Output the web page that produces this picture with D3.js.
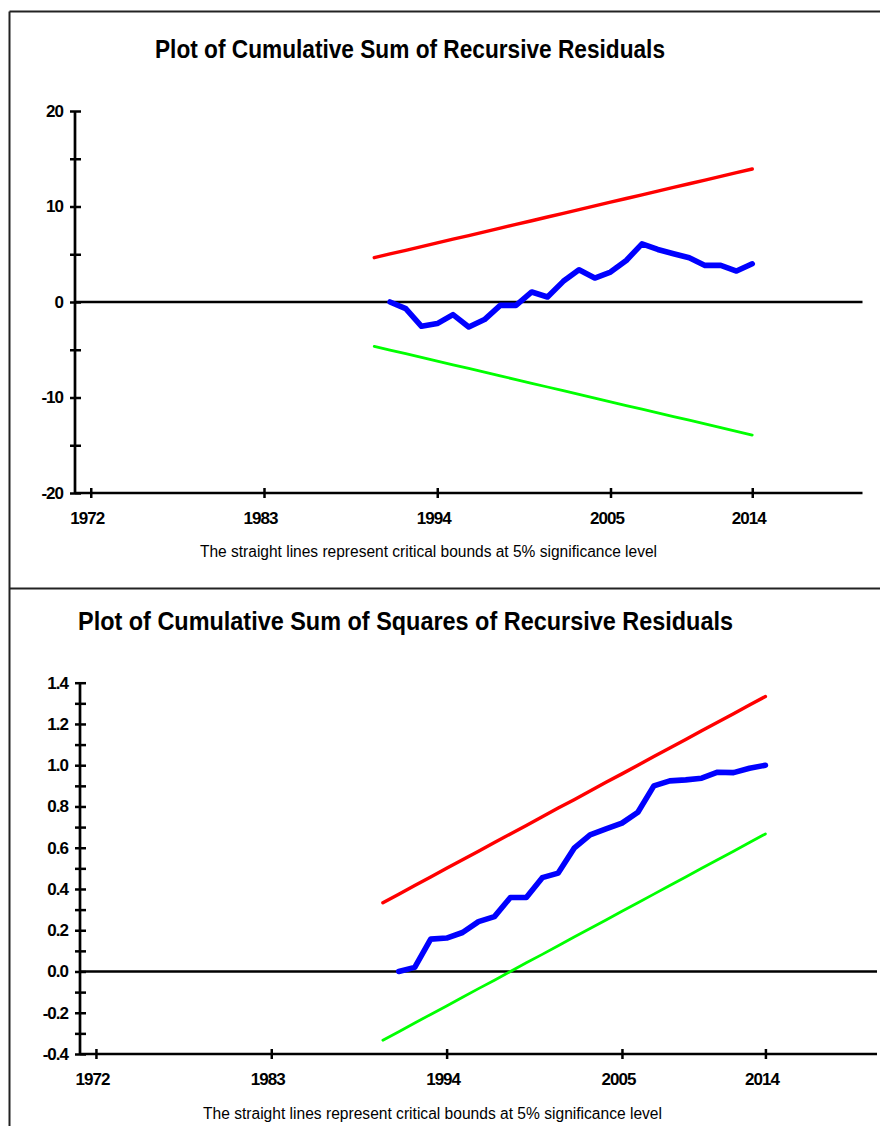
<!DOCTYPE html>
<html>
<head>
<meta charset="utf-8">
<script src="https://cdn.jsdelivr.net/npm/d3@7/dist/d3.min.js"></script>
<style>
  html, body { margin: 0; padding: 0; background: #fff; }
  svg { display: block; }
  text { font-family: "Liberation Sans", Arial, sans-serif; fill: #000; }
</style>
</head>
<body>
<svg id="chart" width="880" height="1126"></svg>
<script>
// ---- data ----
const boundYears = [1990,1991,1992,1993,1994,1995,1996,1997,1998,1999,2000,2001,2002,
                    2003,2004,2005,2006,2007,2008,2009,2010,2011,2012,2013,2014];
const residYears = [1991,1992,1993,1994,1995,1996,1997,1998,1999,2000,2001,2002,
                    2003,2004,2005,2006,2007,2008,2009,2010,2011,2012,2013,2014];

const xTickYears = [1972, 1983, 1994, 2005, 2014];

// CUSUM panel
const cusum = [0.00,-0.70,-2.54,-2.26,-1.32,-2.61,-1.84,-0.35,-0.35,1.05,0.52,2.16,
               3.38,2.51,3.13,4.35,6.09,5.50,5.05,4.63,3.83,3.83,3.24,4.00];
const cusumUpper = [4.64,5.03,5.41,5.80,6.19,6.58,6.96,7.35,7.74,8.12,8.51,8.90,9.29,
                    9.67,10.06,10.45,10.84,11.22,11.61,12.00,12.38,12.77,13.16,13.55,13.93];
const cusumLower = [-4.64,-5.03,-5.41,-5.80,-6.19,-6.58,-6.96,-7.35,-7.74,-8.12,-8.51,-8.90,-9.29,
                    -9.67,-10.06,-10.45,-10.84,-11.22,-11.61,-12.00,-12.38,-12.77,-13.16,-13.55,-13.93];
const cusumTicks = [20, 15, 10, 5, 0, -5, -10, -15, -20];
const cusumTickLabels = ["20", "", "10", "", "0", "", "-10", "", "-20"];

// CUSUM of squares panel
const cusumsq = [0.000,0.020,0.157,0.162,0.189,0.242,0.266,0.359,0.359,0.455,0.477,0.598,
                 0.662,0.691,0.719,0.772,0.900,0.924,0.929,0.937,0.966,0.964,0.985,1.000];
const sqUpper = [0.333,0.375,0.417,0.458,0.500,0.542,0.583,0.625,0.667,0.708,0.750,0.792,0.833,
                 0.875,0.917,0.958,1.000,1.042,1.083,1.125,1.167,1.208,1.250,1.292,1.333];
const sqLower = [-0.333,-0.292,-0.250,-0.208,-0.167,-0.125,-0.083,-0.042,0.000,0.042,0.083,0.125,0.167,
                 0.208,0.250,0.292,0.333,0.375,0.417,0.458,0.500,0.542,0.583,0.625,0.667];
const sqTicks = [1.4,1.3,1.2,1.1,1.0,0.9,0.8,0.7,0.6,0.5,0.4,0.3,0.2,0.1,0.0,-0.1,-0.2,-0.3,-0.4];
const sqTickLabels = ["1.4","","1.2","","1.0","","0.8","","0.6","","0.4","","0.2","","0.0","","-0.2","","-0.4"];

const titles = ["Plot of Cumulative Sum of Recursive Residuals",
                "Plot of Cumulative Sum of Squares of Recursive Residuals"];
const note = "The straight lines represent critical bounds at 5% significance level";

// ---- drawing ----
const svg = d3.select("#chart");
svg.append("rect").attr("width", 880).attr("height", 1126).attr("fill", "#fff");

// panel frame
const frame = svg.append("g").attr("stroke", "#222").attr("stroke-width", 2).attr("fill", "none");
frame.append("line").attr("x1", 9.5).attr("x2", 880).attr("y1", 11.5).attr("y2", 11.5);
frame.append("line").attr("x1", 9.5).attr("x2", 9.5).attr("y1", 11.5).attr("y2", 1126);
frame.append("line").attr("x1", 9.5).attr("x2", 880).attr("y1", 588.5).attr("y2", 588.5);

function panel(cfg) {
  const g = svg.append("g");
  const x = d3.scaleLinear().domain([1971, 2021]).range([cfg.left, cfg.right]);
  const y = d3.scaleLinear().domain(cfg.yDomain).range([cfg.bottom, cfg.top]);

  // title
  g.append("text")
    .attr("x", cfg.titleX).attr("y", cfg.titleY)
    .attr("font-size", 26).attr("font-weight", "bold")
    .attr("textLength", cfg.titleW).attr("lengthAdjust", "spacingAndGlyphs")
    .text(cfg.title);

  // zero reference line
  g.append("line")
    .attr("x1", x(1971)).attr("x2", x(2021))
    .attr("y1", y(0)).attr("y2", y(0))
    .attr("stroke", "#000").attr("stroke-width", 2.5);

  // y axis
  const yAxis = d3.axisLeft(y)
    .tickValues(cfg.yTicks)
    .tickSize(5)
    .tickPadding(8)
    .tickFormat((d, i) => cfg.yLabels[i]);
  const ya = g.append("g").attr("transform", `translate(${x(1971)},0)`).call(yAxis);
  ya.select(".domain").attr("stroke", "#000").attr("stroke-width", 2.7)
    .attr("d", `M0,${y(cfg.yDomain[0])}V${y(cfg.yDomain[1])}`);
  ya.selectAll(".tick line").attr("x1", -5).attr("x2", 6)
    .attr("stroke", "#000").attr("stroke-width", 2.5);
  ya.selectAll(".tick text")
    .attr("font-family", "Liberation Sans, Arial, sans-serif")
    .attr("font-size", 17).attr("font-weight", "bold")
    .attr("letter-spacing", "-1px")
    .attr("x", -12).attr("fill", "#000");

  // x axis
  const xAxis = d3.axisBottom(x)
    .tickValues(xTickYears)
    .tickSize(5)
    .tickFormat(d3.format("d"));
  const xa = g.append("g").attr("transform", `translate(0,${y(cfg.yDomain[0])})`).call(xAxis);
  xa.select(".domain").attr("stroke", "#000").attr("stroke-width", 2.7)
    .attr("d", `M${x(1971)},0H${x(2021)}`);
  xa.selectAll(".tick line").attr("y1", -5).attr("y2", 5)
    .attr("stroke", "#000").attr("stroke-width", 2.5);
  xa.selectAll(".tick text")
    .attr("font-family", "Liberation Sans, Arial, sans-serif")
    .attr("font-size", 17).attr("font-weight", "bold")
    .attr("letter-spacing", "-1px")
    .attr("y", 19).attr("dx", -4).attr("fill", "#000");

  // caption
  g.append("text")
    .attr("x", cfg.noteX).attr("y", cfg.noteY)
    .attr("font-size", 16)
    .attr("textLength", cfg.noteW).attr("lengthAdjust", "spacingAndGlyphs")
    .text(note);

  const line = d3.line().x(d => x(d[0])).y(d => y(d[1]));
  const series = [
    { years: boundYears, values: cfg.upper, color: "#ff0000", w: 3.4 },
    { years: boundYears, values: cfg.lower, color: "#00ff00", w: 2.8 },
    { years: residYears, values: cfg.stat, color: "#0000ff", w: 5.6 }
  ];
  series.forEach(s => {
    g.append("path")
      .datum(s.years.map((yr, i) => [yr, s.values[i]]))
      .attr("d", line)
      .attr("fill", "none")
      .attr("stroke", s.color)
      .attr("stroke-width", s.w)
      .attr("stroke-linejoin", "round")
      .attr("stroke-linecap", "round");
  });
}

panel({
  title: titles[0], titleX: 155, titleY: 58, titleW: 510,
  left: 75, right: 862.5, top: 111, bottom: 493,
  yDomain: [-20, 20], yTicks: cusumTicks, yLabels: cusumTickLabels,
  stat: cusum, upper: cusumUpper, lower: cusumLower,
  noteX: 200, noteY: 557, noteW: 457
});

panel({
  title: titles[1], titleX: 78, titleY: 630, titleW: 655,
  left: 80, right: 877, top: 682.7, bottom: 1054,
  yDomain: [-0.4, 1.4], yTicks: sqTicks, yLabels: sqTickLabels,
  stat: cusumsq, upper: sqUpper, lower: sqLower,
  noteX: 203, noteY: 1119, noteW: 459
});
</script>
</body>
</html>
